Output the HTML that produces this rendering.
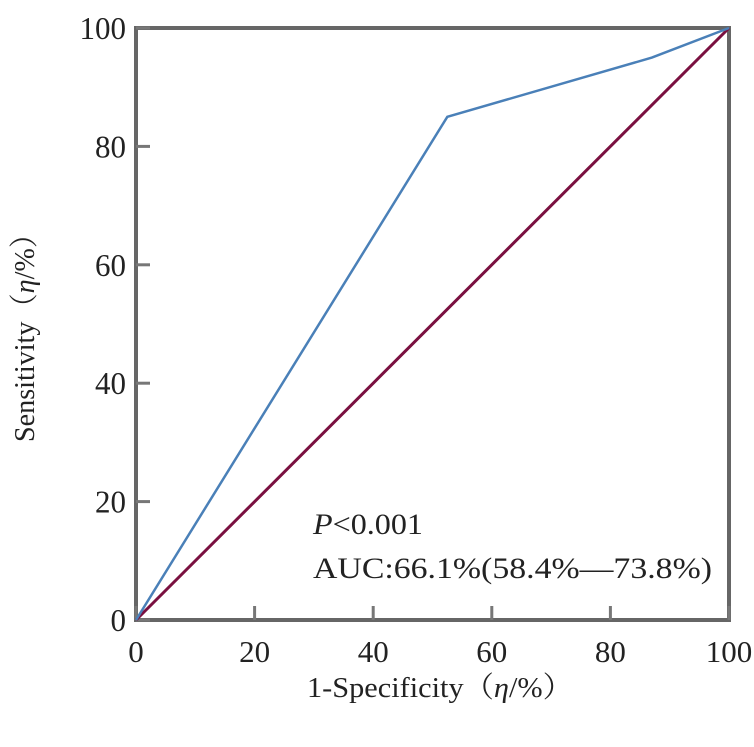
<!DOCTYPE html>
<html><head><meta charset="utf-8"><style>
body{margin:0;background:#fff}
svg text{font-family:"Liberation Serif","Noto Serif CJK SC",serif;fill:#222}
</style></head><body>
<svg width="754" height="742" viewBox="0 0 754 742">
<g id="axes"></g>
<g id="marks"></g>
<text x="313" y="534" font-size="30" textLength="110" lengthAdjust="spacingAndGlyphs"><tspan font-style="italic">P</tspan>&lt;0.001</text>
<text x="313" y="578" font-size="30" textLength="399" lengthAdjust="spacingAndGlyphs">AUC:66.1%(58.4%—73.8%)</text>
<text x="307" y="697" font-size="29" textLength="266" lengthAdjust="spacingAndGlyphs">1-Specificity（<tspan font-style="italic">η</tspan>/%）</text>
<text transform="translate(34,442) rotate(-90)" font-size="29" textLength="222" lengthAdjust="spacingAndGlyphs">Sensitivity（<tspan font-style="italic">η</tspan>/%）</text>
</svg>
<script>
const ticks=[0,20,40,60,80,100];
const rocX=[0,52.5,87,100];
const rocY=[0,85,95,100];
const refX=[0,100];
const refY=[0,100];
const L=136,R=729,T=28,B=620;
const sx=v=>L+(R-L)*v/100, sy=v=>B-(B-T)*v/100;
const NS="http://www.w3.org/2000/svg";
const axes=document.getElementById('axes'), marks=document.getElementById('marks');
function mk(tag,attrs,parent){const e=document.createElementNS(NS,tag);for(const k in attrs)e.setAttribute(k,attrs[k]);parent.appendChild(e);return e;}
const frame=mk('rect',{x:L,y:T,width:R-L,height:B-T,fill:'none',stroke:'#666',"stroke-width":4},axes);


ticks.forEach(t=>{
  const w=String(t).length*15.5;
  const ty=mk('line',{x1:L,x2:L+14,y1:sy(t),y2:sy(t),stroke:'#777',"stroke-width":3},axes);
  
  
  const tx=mk('line',{x1:sx(t),x2:sx(t),y1:B,y2:B-14,stroke:'#777',"stroke-width":3},axes);
  
  
  const ly=mk('text',{x:126-w,y:sy(t)+11,"font-size":32,textLength:w,lengthAdjust:"spacingAndGlyphs"},axes);ly.textContent=t;
  
  
  const lx=mk('text',{x:sx(t)-w/2,y:B+42,"font-size":31,textLength:w,lengthAdjust:"spacingAndGlyphs"},axes);lx.textContent=t;
  
  
});
const ref=mk('polyline',{points:refX.map((x,i)=>sx(x)+','+sy(refY[i])).join(' '),fill:'none',stroke:'#7a1040',"stroke-width":3},marks);


const roc=mk('polyline',{points:rocX.map((x,i)=>sx(x)+','+sy(rocY[i])).join(' '),fill:'none',stroke:'#4a80b8',"stroke-width":2.5},marks);


</script>
</body></html>
